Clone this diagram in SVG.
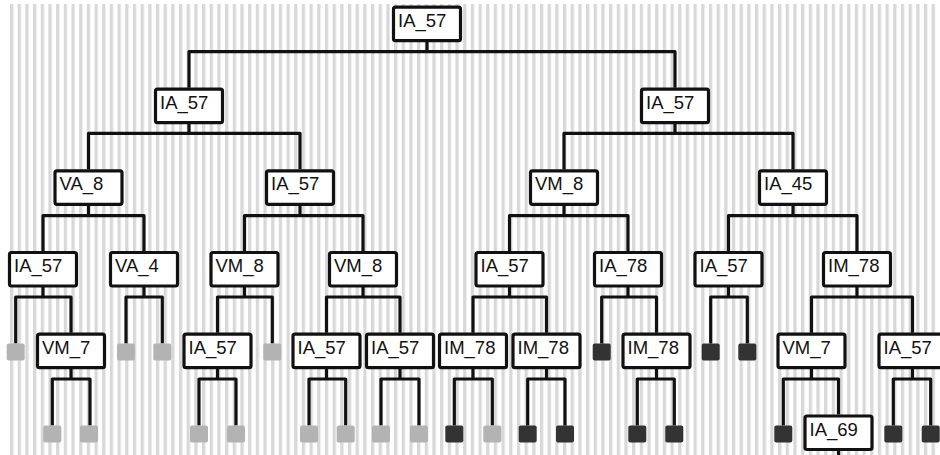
<svg xmlns="http://www.w3.org/2000/svg" width="940" height="455" viewBox="0 0 940 455">
<defs>
<pattern id="stripes" x="10" y="0" width="7.68" height="20" patternUnits="userSpaceOnUse">
<rect x="0" y="0" width="3.3" height="20" fill="#d8d8d8"/>
</pattern>
</defs>
<style>
.box{fill:#fff;stroke:#111;stroke-width:3.2}
.lbl{font-family:"Liberation Sans",Arial,sans-serif;font-size:18.5px;fill:#111}
.c{fill:none;stroke:#111;stroke-width:3.2;stroke-linejoin:round}
.lg{fill:#b3b3b3}
.dk{fill:#333}
</style>
<rect x="0" y="0" width="940" height="455" fill="#fff"/>
<rect x="10" y="4" width="927" height="451" fill="url(#stripes)"/>
<g id="connectors">
<path class="c" d="M427,42 V51.7 M189,87.7 V51.7 H675 V87.7"/>
<path class="c" d="M189,123 V133.3 M88.5,169.3 V133.3 H300 V169.3"/>
<path class="c" d="M675,123 V133.3 M564,169.3 V133.3 H793 V169.3"/>
<path class="c" d="M88.5,205 V215.7 M43,251 V215.7 H144 V251"/>
<path class="c" d="M300,205 V215.7 M244.5,251 V215.7 H363 V251"/>
<path class="c" d="M564,205 V215.7 M509.5,251 V215.7 H628 V251"/>
<path class="c" d="M793,205 V215.7 M728.5,251 V215.7 H857 V251"/>
<path class="c" d="M43,287 V297 M15.7,343.5 V297 H71 V332.7"/>
<path class="c" d="M144,287 V297 M126,343.5 V297 H162.3 V343.5"/>
<path class="c" d="M244.5,287 V297 M217.5,332.7 V297 H272.3 V343.5"/>
<path class="c" d="M363,287 V297 M326.5,332.7 V297 H400 V332.7"/>
<path class="c" d="M509.5,287 V297 M473,332.7 V297 H546.5 V332.7"/>
<path class="c" d="M628,287 V297 M601.7,343.5 V297 H656.5 V332.7"/>
<path class="c" d="M728.5,287 V297 M710.7,343.5 V297 H747.3 V343.5"/>
<path class="c" d="M857,287 V297 M811.5,332.7 V297 H912.5 V332.7"/>
<path class="c" d="M71,369 V379 M52.3,425.5 V379 H90 V425.5"/>
<path class="c" d="M217.5,369 V379 M199,425.5 V379 H236 V425.5"/>
<path class="c" d="M326.5,369 V379 M309,425.5 V379 H345.7 V425.5"/>
<path class="c" d="M400,369 V379 M381,425.5 V379 H419 V425.5"/>
<path class="c" d="M473,369 V379 M454.3,425.5 V379 H492.3 V425.5"/>
<path class="c" d="M546.5,369 V379 M527.7,425.5 V379 H565 V425.5"/>
<path class="c" d="M656.5,369 V379 M637.3,425.5 V379 H674.3 V425.5"/>
<path class="c" d="M811.5,369 V379 M783.3,425.5 V379 H838.5 V414.5"/>
<path class="c" d="M912.5,369 V379 M893.3,425.5 V379 H930.7 V425.5"/>
<path class="c" d="M838.5,450 V456"/>
</g>
<g id="n0"><rect class="box" x="393.5" y="7.2" width="67" height="33.5" rx="2"/><text class="lbl" x="398" y="26.7">IA_57</text></g>
<g id="n1"><rect class="box" x="155.5" y="89.2" width="67" height="33.5" rx="2"/><text class="lbl" x="160" y="108.7">IA_57</text></g>
<g id="n2"><rect class="box" x="641.5" y="89.2" width="67" height="33.5" rx="2"/><text class="lbl" x="646" y="108.7">IA_57</text></g>
<g id="n3"><rect class="box" x="55" y="170.8" width="67" height="33.5" rx="2"/><text class="lbl" x="59.5" y="190.3">VA_8</text></g>
<g id="n4"><rect class="box" x="266.5" y="170.8" width="67" height="33.5" rx="2"/><text class="lbl" x="271" y="190.3">IA_57</text></g>
<g id="n5"><rect class="box" x="530.5" y="170.8" width="67" height="33.5" rx="2"/><text class="lbl" x="535" y="190.3">VM_8</text></g>
<g id="n6"><rect class="box" x="759.5" y="170.8" width="67" height="33.5" rx="2"/><text class="lbl" x="764" y="190.3">IA_45</text></g>
<g id="n7"><rect class="box" x="9.5" y="252.5" width="67" height="33.5" rx="2"/><text class="lbl" x="14" y="272">IA_57</text></g>
<g id="n8"><rect class="box" x="110.5" y="252.5" width="67" height="33.5" rx="2"/><text class="lbl" x="115" y="272">VA_4</text></g>
<g id="n9"><rect class="box" x="211" y="252.5" width="67" height="33.5" rx="2"/><text class="lbl" x="215.5" y="272">VM_8</text></g>
<g id="n10"><rect class="box" x="329.5" y="252.5" width="67" height="33.5" rx="2"/><text class="lbl" x="334" y="272">VM_8</text></g>
<g id="n11"><rect class="box" x="476" y="252.5" width="67" height="33.5" rx="2"/><text class="lbl" x="480.5" y="272">IA_57</text></g>
<g id="n12"><rect class="box" x="594.5" y="252.5" width="67" height="33.5" rx="2"/><text class="lbl" x="599" y="272">IA_78</text></g>
<g id="n13"><rect class="box" x="695" y="252.5" width="67" height="33.5" rx="2"/><text class="lbl" x="699.5" y="272">IA_57</text></g>
<g id="n14"><rect class="box" x="823.5" y="252.5" width="67" height="33.5" rx="2"/><text class="lbl" x="828" y="272">IM_78</text></g>
<g id="n15"><rect class="box" x="37.5" y="334.2" width="67" height="33.5" rx="2"/><text class="lbl" x="42" y="353.7">VM_7</text></g>
<g id="n16"><rect class="box" x="184" y="334.2" width="67" height="33.5" rx="2"/><text class="lbl" x="188.5" y="353.7">IA_57</text></g>
<g id="n17"><rect class="box" x="293" y="334.2" width="67" height="33.5" rx="2"/><text class="lbl" x="297.5" y="353.7">IA_57</text></g>
<g id="n18"><rect class="box" x="366.5" y="334.2" width="67" height="33.5" rx="2"/><text class="lbl" x="371" y="353.7">IA_57</text></g>
<g id="n19"><rect class="box" x="439.5" y="334.2" width="67" height="33.5" rx="2"/><text class="lbl" x="444" y="353.7">IM_78</text></g>
<g id="n20"><rect class="box" x="513" y="334.2" width="67" height="33.5" rx="2"/><text class="lbl" x="517.5" y="353.7">IM_78</text></g>
<g id="n21"><rect class="box" x="623" y="334.2" width="67" height="33.5" rx="2"/><text class="lbl" x="627.5" y="353.7">IM_78</text></g>
<g id="n22"><rect class="box" x="778" y="334.2" width="67" height="33.5" rx="2"/><text class="lbl" x="782.5" y="353.7">VM_7</text></g>
<g id="n23"><rect class="box" x="879" y="334.2" width="67" height="33.5" rx="2"/><text class="lbl" x="883.5" y="353.7">IA_57</text></g>
<g id="n24"><rect class="box" x="805" y="416" width="67" height="33.5" rx="2"/><text class="lbl" x="809.5" y="435.5">IA_69</text></g>
<g id="leaves">
<rect id="l1" class="lg" x="6.7" y="343.5" width="18" height="17" rx="2"/>
<rect id="l2" class="lg" x="117" y="343.5" width="18" height="17" rx="2"/>
<rect id="l3" class="lg" x="153.3" y="343.5" width="18" height="17" rx="2"/>
<rect id="l4" class="lg" x="263.3" y="343.5" width="18" height="17" rx="2"/>
<rect id="l5" class="dk" x="592.7" y="343.5" width="18" height="17" rx="2"/>
<rect id="l6" class="dk" x="701.7" y="343.5" width="18" height="17" rx="2"/>
<rect id="l7" class="dk" x="738.3" y="343.5" width="18" height="17" rx="2"/>
<rect id="l8" class="lg" x="43.3" y="425.5" width="18" height="17" rx="2"/>
<rect id="l9" class="lg" x="80" y="425.5" width="18" height="17" rx="2"/>
<rect id="l10" class="lg" x="190" y="425.5" width="18" height="17" rx="2"/>
<rect id="l11" class="lg" x="227" y="425.5" width="18" height="17" rx="2"/>
<rect id="l12" class="lg" x="300" y="425.5" width="18" height="17" rx="2"/>
<rect id="l13" class="lg" x="336.7" y="425.5" width="18" height="17" rx="2"/>
<rect id="l14" class="lg" x="372" y="425.5" width="18" height="17" rx="2"/>
<rect id="l15" class="lg" x="410" y="425.5" width="18" height="17" rx="2"/>
<rect id="l16" class="dk" x="445.3" y="425.5" width="18" height="17" rx="2"/>
<rect id="l17" class="lg" x="483.3" y="425.5" width="18" height="17" rx="2"/>
<rect id="l18" class="dk" x="518.7" y="425.5" width="18" height="17" rx="2"/>
<rect id="l19" class="dk" x="556" y="425.5" width="18" height="17" rx="2"/>
<rect id="l20" class="dk" x="628.3" y="425.5" width="18" height="17" rx="2"/>
<rect id="l21" class="dk" x="665.3" y="425.5" width="18" height="17" rx="2"/>
<rect id="l22" class="dk" x="774.3" y="425.5" width="18" height="17" rx="2"/>
<rect id="l23" class="dk" x="884.3" y="425.5" width="18" height="17" rx="2"/>
<rect id="l24" class="dk" x="921.7" y="425.5" width="18" height="17" rx="2"/>
</g>
</svg>
